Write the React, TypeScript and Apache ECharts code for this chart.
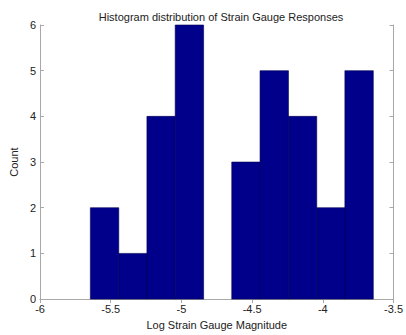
import React, { useEffect, useRef } from "react";
import * as echarts from "echarts";

const binStarts = [-5.644, -5.444, -5.244, -5.044, -4.844, -4.644, -4.444, -4.244, -4.044, -3.844];
const binWidth = 0.201;
const counts = [2, 1, 4, 6, 0, 3, 5, 4, 2, 5];
const xTicks = [-6, -5.5, -5, -4.5, -4, -3.5];
const yTicks = [0, 1, 2, 3, 4, 5, 6];

const titleText = "Histogram distribution of Strain Gauge Responses";
const xLabel = "Log Strain Gauge Magnitude";
const yLabel = "Count";

export default function App() {
  const ref = useRef<HTMLDivElement>(null);
  useEffect(() => {
    if (!ref.current) return;
    const chart = echarts.init(ref.current, undefined, { renderer: "svg" });
    const data = binStarts.map((s, i) => [s, s + binWidth, counts[i]]);
    const font = "Liberation Sans, Arial, sans-serif";
    const axisLine = { show: true, lineStyle: { color: "#a8a8a8", width: 1 } };
    const tick = { show: true, inside: true, length: 4, lineStyle: { color: "#a8a8a8" } };
    chart.setOption({
      animation: false,
      backgroundColor: "#ffffff",
      title: {
        text: titleText,
        left: 216,
        top: 6,
        textAlign: "center",
        textStyle: { fontFamily: font, fontSize: 11, fontWeight: "normal", color: "#222" },
      },
      grid: { left: 39, right: 10, top: 25, bottom: 30, show: false },
      xAxis: [
        {
          type: "value",
          min: -6,
          max: -3.5,
          interval: 0.5,
          position: "bottom",
          axisLine,
          axisTick: tick,
          splitLine: { show: false },
          axisLabel: {
            fontFamily: font,
            fontSize: 11,
            color: "#222",
            margin: 4,
            formatter: (v: number) => (xTicks.includes(v) ? String(v) : ""),
          },
          name: xLabel,
          nameLocation: "middle",
          nameGap: 18,
          nameTextStyle: { fontFamily: font, fontSize: 11, color: "#222" },
        },
        {
          type: "value",
          min: -6,
          max: -3.5,
          interval: 0.5,
          position: "top",
          axisLine,
          axisTick: tick,
          splitLine: { show: false },
          axisLabel: { show: false },
        },
      ],
      yAxis: [
        {
          type: "value",
          min: 0,
          max: 6,
          interval: 1,
          position: "left",
          axisLine,
          axisTick: tick,
          splitLine: { show: false },
          axisLabel: {
            fontFamily: font,
            fontSize: 11,
            color: "#222",
            margin: 4,
            formatter: (v: number) => (yTicks.includes(v) ? String(v) : ""),
          },
          name: yLabel,
          nameLocation: "middle",
          nameGap: 14,
          nameRotate: 90,
          nameTextStyle: { fontFamily: font, fontSize: 11, color: "#222" },
        },
        {
          type: "value",
          min: 0,
          max: 6,
          interval: 1,
          position: "right",
          axisLine,
          axisTick: tick,
          splitLine: { show: false },
          axisLabel: { show: false },
        },
      ],
      series: [
        {
          type: "custom",
          xAxisIndex: 0,
          yAxisIndex: 0,
          data,
          encode: { x: [0, 1], y: 2 },
          renderItem: (params: any, api: any) => {
            if (!api.value(2)) return null;
            const p0 = api.coord([api.value(0), 0]);
            const p1 = api.coord([api.value(1), api.value(2)]);
            return {
              type: "rect",
              shape: { x: p0[0], y: p1[1], width: p1[0] - p0[0], height: p0[1] - p1[1] },
              style: { fill: "#00008b", stroke: "#000050", lineWidth: 0.6 },
            };
          },
        },
      ],
    });
    return () => chart.dispose();
  }, []);
  return (
    <div
      ref={ref}
      style={{ position: "fixed", left: 0, top: 0, width: 406, height: 335 }}
    />
  );
}
